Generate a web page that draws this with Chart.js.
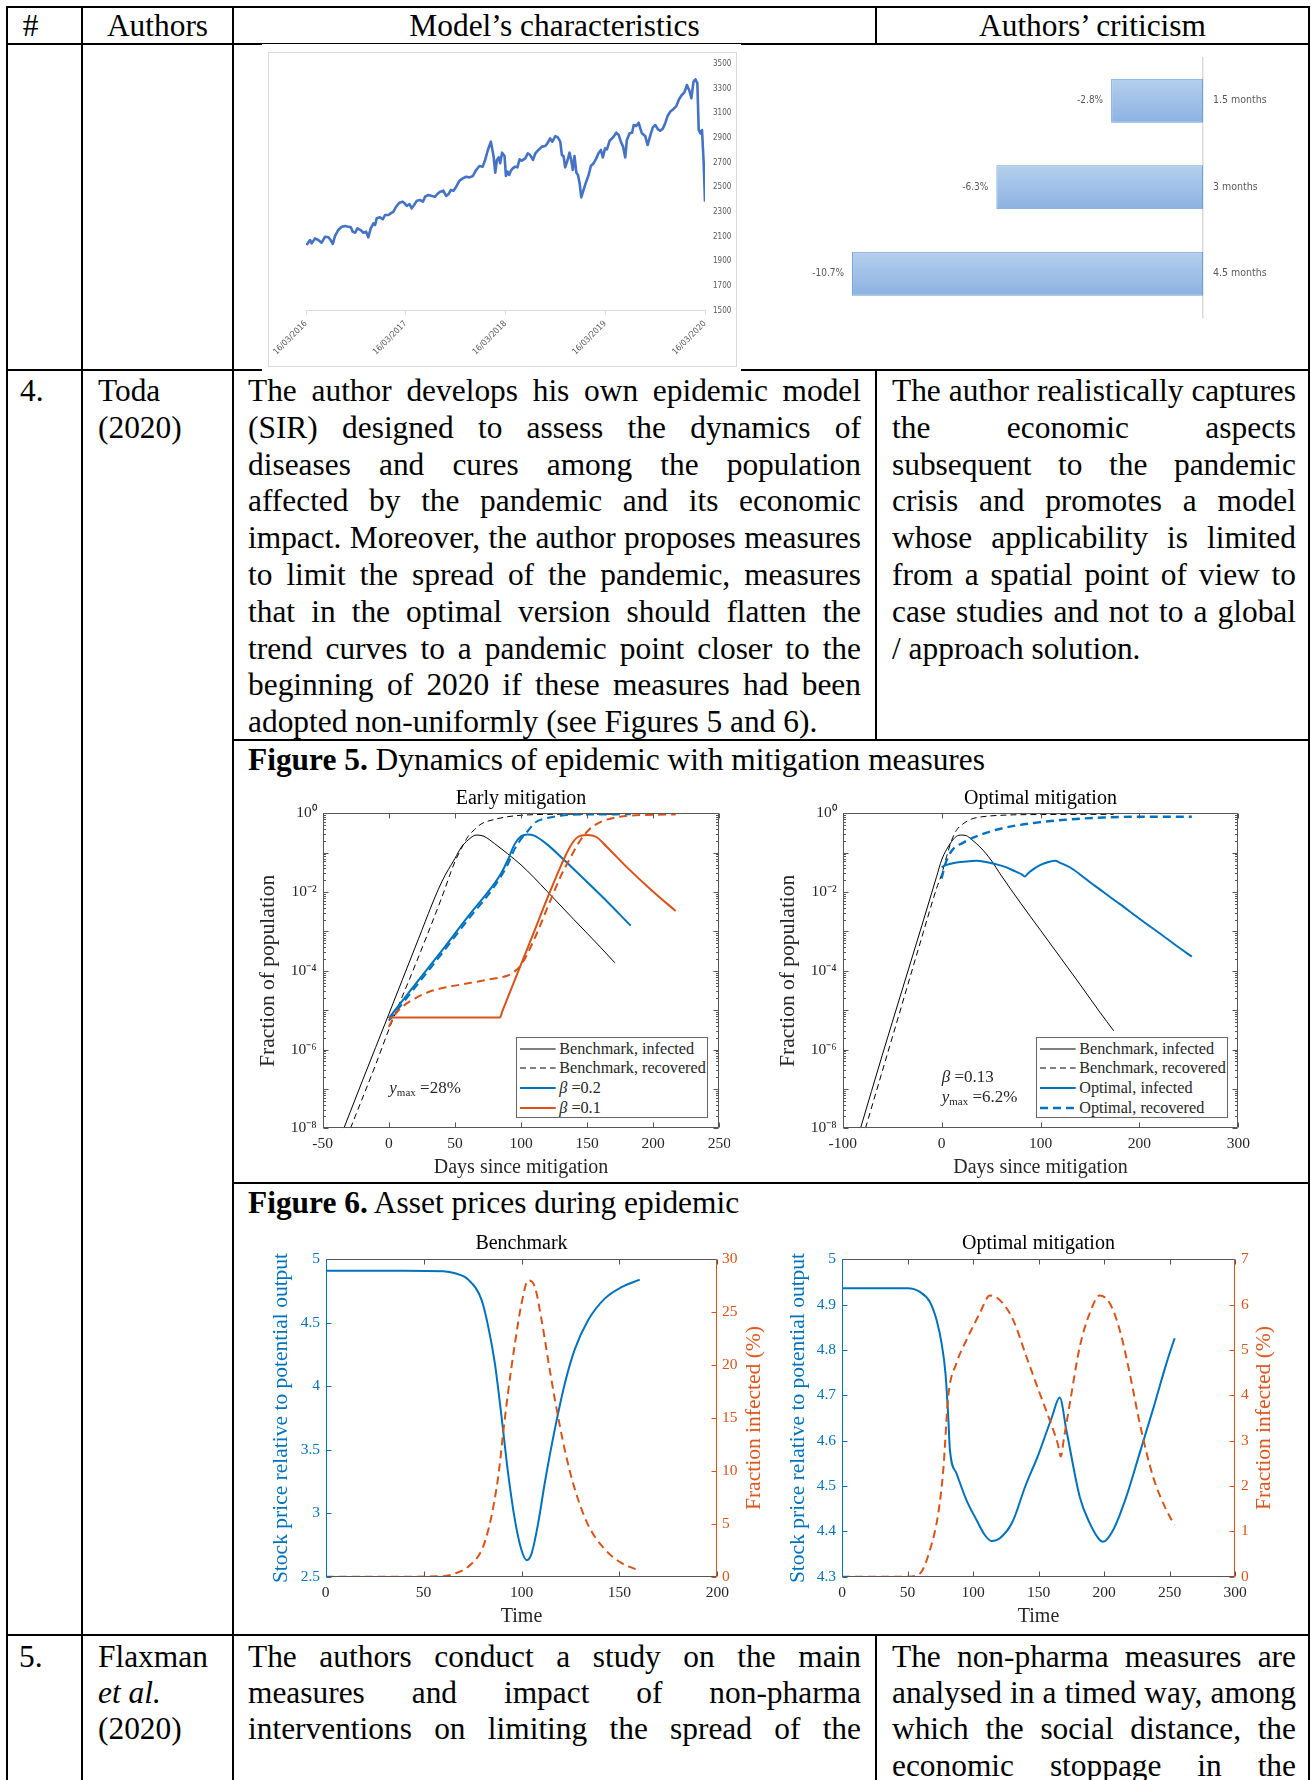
<!DOCTYPE html>
<html>
<head>
<meta charset="utf-8">
<title>Toda (2020) – epidemic and asset prices</title>
<script src="https://cdn.jsdelivr.net/npm/chart.js@4.4.1/dist/chart.umd.min.js"></script>
<style>
  html, body { margin: 0; padding: 0; background: #fff; }
  #page { position: relative; width: 1311px; height: 1780px; overflow: hidden;
          font-family: 'Liberation Serif', 'Times New Roman', serif; color: #000; }
  .ln { position: absolute; background: #000; z-index: 1; }
  .t { position: absolute; font-size: 31.4px; line-height: 36.8px; white-space: nowrap; z-index: 1; }
  .c { text-align: center; }
  .j { position: absolute; font-size: 31.4px; line-height: 36.8px; text-align: justify;
       text-align-last: justify; word-spacing: -0.05em; z-index: 1; }
  .cover { position: absolute; background: #fff; z-index: 2; }
  .frame { position: absolute; box-sizing: border-box; border: 1px solid #d9d9d9; background: #fff; z-index: 2; }
  canvas { position: absolute; z-index: 3; }
  .legend { position: absolute; box-sizing: border-box; border: 1px solid #666; background: #fff; z-index: 4; }
  .lrow { position: absolute; left: 0; right: 0; height: 20px; }
  .lrow svg { position: absolute; left: 3.6px; top: 0; }
  .lrow span { position: absolute; left: 42.6px; top: 0; font-size: 16.2px; line-height: 20px; color: #262626; white-space: nowrap; }
  .ann { position: absolute; font-size: 17px; line-height: 20px; color: #262626; white-space: nowrap; z-index: 4; transform: translateY(-50%); }
  .ann sub { font-size: 11px; vertical-align: -3px; }
  .rtitle { position: absolute; font-size: 21.5px; line-height: 26px; white-space: nowrap; z-index: 4;
            transform: translate(-50%, -50%) rotate(-90deg); }
</style>
</head>
<body>
<div id="page">
  <!-- table rules -->
  <div class="ln" style="left:6px;top:6px;width:1304px;height:2px"></div>
  <div class="ln" style="left:6px;top:43px;width:1304px;height:2px"></div>
  <div class="ln" style="left:6px;top:369px;width:1304px;height:2px"></div>
  <div class="ln" style="left:232px;top:739px;width:1078px;height:2px"></div>
  <div class="ln" style="left:232px;top:1182px;width:1078px;height:2px"></div>
  <div class="ln" style="left:6px;top:1634px;width:1304px;height:2px"></div>
  <div class="ln" style="left:6px;top:6px;width:2px;height:1774px"></div>
  <div class="ln" style="left:81px;top:6px;width:2px;height:1774px"></div>
  <div class="ln" style="left:232px;top:6px;width:2px;height:1774px"></div>
  <div class="ln" style="left:1308px;top:6px;width:2px;height:1774px"></div>
  <div class="ln" style="left:875px;top:6px;width:2px;height:38px"></div>
  <div class="ln" style="left:875px;top:369px;width:2px;height:371px"></div>
  <div class="ln" style="left:875px;top:1634px;width:2px;height:146px"></div>

  <!-- header row -->
  <div class="t" style="left:22.7px;top:8px">#</div>
  <div class="t c" style="left:82px;top:8px;width:151px">Authors</div>
  <div class="t c" style="left:233px;top:8px;width:643px">Model’s characteristics</div>
  <div class="t c" style="left:876px;top:8px;width:433px">Authors’ criticism</div>

  <!-- row 4 -->
  <div class="t" style="left:20px;top:373px">4.</div>
  <div class="t" style="left:98px;top:373px">Toda</div>
  <div class="t" style="left:98px;top:409.8px">(2020)</div>

  <div class="j" style="left:248px;top:373px;width:613px">The author develops his own epidemic model</div>
  <div class="j" style="left:248px;top:409.8px;width:613px">(SIR) designed to assess the dynamics of</div>
  <div class="j" style="left:248px;top:446.6px;width:613px">diseases and cures among the population</div>
  <div class="j" style="left:248px;top:483.4px;width:613px">affected by the pandemic and its economic</div>
  <div class="j" style="left:248px;top:520.2px;width:613px">impact. Moreover, the author proposes measures</div>
  <div class="j" style="left:248px;top:557px;width:613px">to limit the spread of the pandemic, measures</div>
  <div class="j" style="left:248px;top:593.8px;width:613px">that in the optimal version should flatten the</div>
  <div class="j" style="left:248px;top:630.6px;width:613px">trend curves to a pandemic point closer to the</div>
  <div class="j" style="left:248px;top:667.4px;width:613px">beginning of 2020 if these measures had been</div>
  <div class="t" style="left:248px;top:704.2px">adopted non-uniformly (see Figures 5 and 6).</div>

  <div class="j" style="left:892px;top:373px;width:404px">The author realistically captures</div>
  <div class="j" style="left:892px;top:409.8px;width:404px">the economic aspects</div>
  <div class="j" style="left:892px;top:446.6px;width:404px">subsequent to the pandemic</div>
  <div class="j" style="left:892px;top:483.4px;width:404px">crisis and promotes a model</div>
  <div class="j" style="left:892px;top:520.2px;width:404px">whose applicability is limited</div>
  <div class="j" style="left:892px;top:557px;width:404px">from a spatial point of view to</div>
  <div class="j" style="left:892px;top:593.8px;width:404px">case studies and not to a global</div>
  <div class="t" style="left:892px;top:630.6px">/ approach solution.</div>

  <!-- figure captions -->
  <div class="t" style="left:248px;top:742px"><b>Figure 5.</b> Dynamics of epidemic with mitigation measures</div>
  <div class="t" style="left:248px;top:1184.7px"><b>Figure 6.</b> Asset prices during epidemic</div>

  <!-- row 5 -->
  <div class="t" style="left:19px;top:1638.8px">5.</div>
  <div class="t" style="left:98px;top:1638.8px">Flaxman</div>
  <div class="t" style="left:98px;top:1675.1px"><i>et al.</i></div>
  <div class="t" style="left:98px;top:1711.4px">(2020)</div>

  <div class="j" style="left:248px;top:1638.8px;width:613px">The authors conduct a study on the main</div>
  <div class="j" style="left:248px;top:1675.1px;width:613px">measures and impact of non-pharma</div>
  <div class="j" style="left:248px;top:1711.4px;width:613px">interventions on limiting the spread of the</div>

  <div class="j" style="left:892px;top:1638.8px;width:404px">The non-pharma measures are</div>
  <div class="j" style="left:892px;top:1675.1px;width:404px">analysed in a timed way, among</div>
  <div class="j" style="left:892px;top:1711.4px;width:404px">which the social distance, the</div>
  <div class="j" style="left:892px;top:1747.7px;width:404px">economic stoppage in the</div>

  <!-- white panel behind the index chart -->
  <div class="cover" style="left:262px;top:44px;width:479px;height:328px"></div>
  <div class="frame" style="left:268px;top:52px;width:469px;height:315px"></div>
</div>

<script>
// ---------------- index level, 16/03/2016 – 16/03/2020 ----------------
const stockDays = [2,15,21,33,45,57,70,82,90,98,
  106,118,131,143,155,164,171,180,188,200,
  210,220,228,237,247,253,259,271,281,290,
  302,310,320,330,342,354,363,369,379,387,
  396,406,418,428,436,448,461,473,481,491,
  503,513,522,530,540,550,562,574,586,599,
  611,623,635,647,656,666,677,687,693,699,
  706,711,718,727,732,738,744,750,757,766,
  774,782,790,803,812,821,831,840,851,864,
  876,884,894,902,913,922,931,937,943,949,
  958,965,971,977,983,990,996,1002,1008,1016,
  1026,1035,1043,1053,1063,1071,1080,1087,1095,1102,
  1112,1124,1136,1145,1153,1161,1169,1175,1185,1194,
  1200,1209,1218,1224,1230,1242,1251,1261,1270,1279,
  1289,1297,1307,1316,1324,1334,1344,1356,1366,1376,
  1385,1395,1405,1411,1419,1426,1433,1438,1444,1450,
  1456,1461];
const stockValues = [2032,2073,2046,2086,2073,2051,2100,2095,2073,2041,
  2105,2154,2181,2186,2181,2176,2141,2132,2168,2154,
  2132,2141,2095,2168,2208,2195,2249,2257,2241,2276,
  2276,2289,2303,2343,2376,2384,2365,2349,2365,2330,
  2357,2392,2397,2384,2424,2438,2430,2424,2446,2465,
  2473,2430,2446,2478,2473,2505,2554,2573,2586,2581,
  2592,2641,2673,2668,2722,2803,2870,2749,2619,2722,
  2743,2695,2781,2754,2592,2627,2600,2635,2654,2668,
  2662,2727,2716,2735,2776,2762,2722,2776,2803,2830,
  2835,2857,2897,2870,2916,2905,2870,2762,2754,2662,
  2722,2781,2722,2641,2754,2619,2600,2532,2419,2478,
  2546,2600,2673,2695,2735,2776,2803,2743,2816,2808,
  2878,2905,2943,2924,2870,2830,2743,2884,2938,2943,
  3005,2997,3024,2978,2938,2916,2843,2924,2986,3005,
  2970,2959,2978,3024,3078,3114,3132,3159,3214,3249,
  3268,3330,3276,3222,3357,3376,3343,2965,2938,2965,
  2708,2384];
const stockTickDays = [0, 365, 730, 1095, 1461];
const stockTickLabels = ['16/03/2016', '16/03/2017', '16/03/2018', '16/03/2019', '16/03/2020'];

// ---------------- output loss by lockdown length ----------------
const lockdownLabels = ['1.5 months', '3 months', '4.5 months'];
const lockdownImpact = [-2.8, -6.3, -10.7];

// ---------------- Figure 5: early mitigation ----------------
const earlyXTicks = [-50, 0, 50, 100, 150, 200, 250];
const logTicks = [1e-8, 1e-6, 1e-4, 1e-2, 1];

const earlyBenchInfDays = [-34, -20, 0, 20, 40, 50, 55, 60, 66, 72, 80, 90, 100, 110, 120, 140, 160, 171];
const earlyBenchInfVals = [1.0e-8, 1.6e-7, 7.9e-6, 4.0e-4, 1.8e-2, 0.071, 0.14, 0.21, 0.28, 0.26, 0.17, 0.093, 0.049, 0.023, 0.0102, 2.0e-3, 4.0e-4, 1.6e-4];
const earlyBenchRecDays = [-29, -10, 0, 20, 40, 50, 55, 60, 65, 70, 80, 90, 100, 120, 150, 171];
const earlyBenchRecVals = [1.0e-8, 4.1e-7, 3.2e-6, 1.4e-4, 7.2e-3, 0.059, 0.13, 0.26, 0.39, 0.54, 0.70, 0.82, 0.89, 0.94, 0.95, 0.95];
const earlyB2InfDays = [0, 20, 40, 60, 80, 85, 90, 95, 100, 105, 110, 120, 130, 140, 160, 183];
const earlyB2InfVals = [6.3e-6, 4.5e-5, 3.2e-4, 2.4e-3, 0.0166, 0.030, 0.065, 0.16, 0.26, 0.29, 0.27, 0.16, 0.079, 0.038, 8.5e-3, 1.4e-3];
const earlyB2RecDays = [0, 20, 40, 60, 80, 90, 95, 100, 105, 110, 120, 130, 150, 183];
const earlyB2RecVals = [5.4e-6, 3.8e-5, 2.7e-4, 2.0e-3, 0.014, 0.050, 0.12, 0.22, 0.35, 0.56, 0.76, 0.87, 0.93, 0.94];
const earlyB1InfDays = [0, 84, 86, 100, 110, 120, 130, 137, 143, 150, 157, 165, 180, 200, 217];
const earlyB1InfVals = [6.5e-6, 6.5e-6, 9.6e-6, 1.45e-4, 1.0e-3, 7.1e-3, 0.045, 0.14, 0.25, 0.28, 0.25, 0.14, 0.043, 0.0102, 3.3e-3];
const earlyB1RecDays = [0, 5, 10, 20, 30, 45, 60, 75, 90, 95, 100, 110, 120, 130, 137, 145, 152, 160, 175, 195, 217];
const earlyB1RecVals = [3.8e-6, 7.9e-6, 1.2e-5, 2.0e-5, 2.9e-5, 3.9e-5, 4.8e-5, 6.0e-5, 7.6e-5, 9.5e-5, 1.4e-4, 6.3e-4, 4.0e-3, 0.025, 0.071, 0.21, 0.40, 0.60, 0.82, 0.91, 0.93];

// ---------------- Figure 5: optimal mitigation ----------------
const optimalXTicks = [-100, 0, 100, 200, 300];
const optBenchInfDays = [-82, -60, -40, -20, -5, 0, 5, 10, 15, 20, 25, 30, 40, 50, 60, 80, 100, 120, 140, 160, 174];
const optBenchInfVals = [1.0e-8, 7.2e-7, 3.2e-5, 1.4e-3, 0.025, 0.065, 0.12, 0.19, 0.26, 0.28, 0.27, 0.22, 0.13, 0.065, 0.027, 5.2e-3, 1.07e-3, 2.2e-4, 4.5e-5, 8.9e-6, 3.0e-6];
const optBenchRecDays = [-77, -60, -40, -20, -5, 0, 5, 10, 15, 20, 30, 40, 60, 100, 174];
const optBenchRecVals = [1.0e-8, 2.8e-7, 1.4e-5, 7.1e-4, 0.0126, 0.028, 0.079, 0.20, 0.37, 0.50, 0.71, 0.81, 0.89, 0.93, 0.94];
const optInfDays = [0, 5, 15, 25, 35, 45, 55, 65, 75, 81, 84, 87, 90, 100, 110, 115, 120, 130, 140, 150, 160, 170, 180, 200, 220, 240, 253];
const optInfVals = [0.043, 0.049, 0.056, 0.060, 0.062, 0.058, 0.051, 0.043, 0.033, 0.028, 0.025, 0.029, 0.034, 0.049, 0.060, 0.062, 0.055, 0.042, 0.028, 0.0178, 0.0117, 7.6e-3, 5.0e-3, 2.1e-3, 9.1e-4, 3.9e-4, 2.3e-4];
const optRecDays = [0, 3, 10, 22, 35, 62, 96, 130, 163, 197, 253];
const optRecVals = [0.022, 0.045, 0.11, 0.18, 0.26, 0.42, 0.58, 0.70, 0.78, 0.82, 0.82];

// ---------------- Figure 6: benchmark ----------------
const bmXTicks = [0, 50, 100, 150, 200];
const bmPriceTicks = [2.5, 3, 3.5, 4, 4.5, 5];
const bmInfTicks = [0, 5, 10, 15, 20, 25, 30];
const bmPriceTime = [0, 20, 40, 60, 66, 72.8, 79.6, 83, 86.4, 89.8, 93.2, 96.6, 100, 102.6, 105.1, 108.5, 111.9, 117, 122.1, 127.2, 134, 142.5, 151, 160.4];
const bmPriceVals = [4.91, 4.91, 4.91, 4.905, 4.89, 4.84, 4.68, 4.47, 4.18, 3.76, 3.31, 2.95, 2.71, 2.63, 2.68, 2.92, 3.24, 3.66, 4.02, 4.29, 4.52, 4.69, 4.78, 4.84];
const bmInfTime = [0, 40, 60, 66, 72.8, 79.6, 83, 86, 88.5, 90.7, 93.2, 96.6, 100, 103.4, 106.8, 110.2, 113.6, 117, 122.1, 127.2, 134, 142.5, 151, 160.4];
const bmInfVals = [0, 0, 0.05, 0.3, 0.95, 2.5, 4.4, 7.0, 10.0, 13.7, 17.5, 22.0, 25.8, 28.0, 27.4, 24.3, 20.5, 16.8, 12.0, 8.3, 4.9, 2.6, 1.3, 0.57];

// ---------------- Figure 6: optimal mitigation ----------------
const opXTicks = [0, 50, 100, 150, 200, 250, 300];
const opPriceTicks = [4.3, 4.4, 4.5, 4.6, 4.7, 4.8, 4.9, 5];
const opInfTicks = [0, 1, 2, 3, 4, 5, 6, 7];
const opPriceTime = [0, 50, 59.5, 67.1, 72.2, 76, 79, 81.1, 82.4, 87.4, 95, 102.7, 109, 114.1, 120.5, 130, 140, 150, 160, 166.2, 171.3, 181.5, 189.1, 196.7, 199.3, 207, 217, 227.3, 237.4, 247.6, 253.9];
const opPriceVals = [4.936, 4.936, 4.928, 4.906, 4.866, 4.815, 4.748, 4.653, 4.579, 4.528, 4.469, 4.425, 4.392, 4.379, 4.385, 4.42, 4.50, 4.57, 4.65, 4.695, 4.623, 4.476, 4.418, 4.381, 4.377, 4.403, 4.476, 4.573, 4.669, 4.77, 4.826];
const opInfTime = [0, 50, 59.5, 67.1, 73.5, 77.3, 81.1, 87.4, 95, 105.2, 112.9, 120.5, 130.7, 140.8, 151, 161.2, 165, 167, 169.5, 173.9, 181.5, 189.1, 196.7, 204.4, 212, 219.6, 227.3, 237.4, 247.6, 253.9];
const opInfVals = [0, 0, 0.07, 0.59, 1.40, 2.35, 3.97, 4.71, 5.22, 5.81, 6.2, 6.10, 5.66, 4.85, 4.04, 3.24, 2.9, 2.65, 3.07, 3.82, 5.07, 5.81, 6.2, 6.03, 5.44, 4.49, 3.38, 2.21, 1.47, 1.14];

// ---------------- styling ----------------
const SERIF = "'Liberation Serif', 'Times New Roman', serif";
const NARROW = "'Liberation Sans Narrow', 'Arial Narrow', 'DejaVu Sans Condensed', sans-serif";
const INK = '#262626';
const FRAME = '#555555';
const BLUE = '#0072BD';
const ORANGE = '#D95319';
const SUP = { '0': '⁰', '1': '¹', '2': '²', '3': '³', '4': '⁴', '5': '⁵', '6': '⁶', '7': '⁷', '8': '⁸', '9': '⁹', '-': '⁻' };
const page = document.getElementById('page');

const pts = (xs, ys) => xs.map((x, i) => ({ x, y: ys[i] }));
const tickList = arr => s => { s.ticks = arr.map(v => ({ value: v })); };
const plainNum = v => String(Math.round(v * 1000) / 1000);
const powLabel = v => '10' + String(Math.round(Math.log10(v))).split('').map(ch => SUP[ch]).join('');

function makeCanvas(left, top, w, h) {
  const c = document.createElement('canvas');
  c.width = w; c.height = h;
  c.style.left = left + 'px'; c.style.top = top + 'px';
  c.style.width = w + 'px'; c.style.height = h + 'px';
  page.appendChild(c);
  return c;
}

// Box frame with inward tick marks on every side (MATLAB look)
const boxAxes = {
  id: 'boxAxes',
  afterDatasetsDraw(chart, _args, o) {
    const { ctx, chartArea: a } = chart;
    const L = Math.round(a.left) + 0.5, R = Math.round(a.right) - 0.5;
    const T = Math.round(a.top) + 0.5, B = Math.round(a.bottom) - 0.5;
    const seg = (x1, y1, x2, y2, c) => {
      ctx.strokeStyle = c; ctx.beginPath(); ctx.moveTo(x1, y1); ctx.lineTo(x2, y2); ctx.stroke();
    };
    ctx.save();
    ctx.lineWidth = 1;
    const xs = chart.scales.x;
    xs.ticks.forEach(t => {
      const p = Math.round(xs.getPixelForValue(t.value)) + 0.5;
      seg(p, B, p, B - o.len, o.color);
      seg(p, T, p, T + o.len, o.color);
    });
    o.yAxes.forEach(ax => {
      const s = chart.scales[ax.id];
      const marks = [];
      if (s.type === 'logarithmic') {
        const e0 = Math.round(Math.log10(s.min)), e1 = Math.round(Math.log10(s.max));
        for (let e = e0; e <= e1; e++) {
          marks.push([Math.pow(10, e), o.len]);
          if (e < e1) for (let k = 2; k < 10; k++) marks.push([k * Math.pow(10, e), o.len * 0.5]);
        }
      } else {
        s.ticks.forEach(t => marks.push([t.value, o.len]));
      }
      marks.forEach(([v, len]) => {
        const p = Math.round(s.getPixelForValue(v)) + 0.5;
        if (ax.left) seg(L, p, L + len, p, ax.color);
        if (ax.right) seg(R, p, R - len, p, ax.color);
      });
    });
    seg(L, T, R, T, o.color);
    seg(L, B, R, B, o.color);
    seg(L, T, L, B, o.leftColor || o.color);
    seg(R, T, R, B, o.rightColor || o.color);
    ctx.restore();
  }
};

// title box sized to the plot area, so it centres over the axes
function titleOpts(text, top, bottom) {
  return { display: true, fullSize: false, text, color: '#000', font: { family: SERIF, size: 20, weight: 'normal' }, padding: { top, bottom } };
}

function xAxis(min, max, ticks, height, pad, title, titlePad) {
  return {
    type: 'linear', min, max,
    afterBuildTicks: tickList(ticks),
    afterFit: s => { s.height = height; s.paddingLeft = 0; s.paddingRight = 0; },
    grid: { display: false, drawTicks: false },
    border: { display: false },
    ticks: { padding: pad, color: INK, autoSkip: false, maxRotation: 0, font: { family: SERIF, size: 15.5 }, callback: v => plainNum(v) },
    title: { display: true, text: title, color: INK, font: { family: SERIF, size: 20 }, padding: { top: 0, bottom: titlePad } }
  };
}

function yAxis(o) {
  return {
    type: o.type || 'linear', position: o.position, min: o.min, max: o.max,
    afterBuildTicks: tickList(o.ticks),
    afterFit: s => { s.width = o.width; s.paddingTop = 0; s.paddingBottom = 0; },
    grid: { display: false, drawTicks: false },
    border: { display: false },
    ticks: { padding: o.pad, color: o.color, autoSkip: false, font: { family: SERIF, size: 15.5 }, callback: o.fmt || (v => plainNum(v)) },
    title: o.title ? { display: true, text: o.title, color: o.color, font: { family: SERIF, size: 21.5 }, padding: { top: o.titlePad, bottom: 0 } } : { display: false }
  };
}

function lineSet(label, data, color, width, dash, order, yAxisID) {
  return { label, data, borderColor: color, borderWidth: width, borderDash: dash || [], pointRadius: 0,
           cubicInterpolationMode: 'monotone', fill: false, order, yAxisID: yAxisID || 'y' };
}

function baseOptions(extra) {
  return Object.assign({
    responsive: false, animation: false, devicePixelRatio: 1, events: [],
  }, extra);
}

function addLegend(left, top, width, height, sets) {
  const box = document.createElement('div');
  box.className = 'legend';
  box.style.left = left + 'px'; box.style.top = top + 'px';
  box.style.width = width + 'px'; box.style.height = height + 'px';
  sets.forEach((d, i) => {
    const row = document.createElement('div');
    row.className = 'lrow';
    row.style.top = (0.4 + 19.7 * i) + 'px';
    const dash = d.borderDash && d.borderDash.length ? ` stroke-dasharray="${d.borderDash.join(' ')}"` : '';
    row.innerHTML = `<svg width="36" height="20"><line x1="0" y1="10" x2="35.7" y2="10" stroke="${d.borderColor}" stroke-width="${d.borderWidth}"${dash}/></svg>` +
      `<span>${d.label.replace('β', '<i>β</i>')}</span>`;
    box.appendChild(row);
  });
  page.appendChild(box);
}

function addNote(left, centerY, html) {
  const n = document.createElement('div');
  n.className = 'ann';
  n.style.left = left + 'px'; n.style.top = centerY + 'px';
  n.innerHTML = html;
  page.appendChild(n);
}

function addRightTitle(cx, cy, text, color) {
  const d = document.createElement('div');
  d.className = 'rtitle';
  d.style.left = cx + 'px'; d.style.top = cy + 'px'; d.style.color = color;
  d.textContent = text;
  page.appendChild(d);
}

// ---------------- index line chart ----------------
new Chart(makeCanvas(240, 52, 497, 315), {
  type: 'line',
  data: { datasets: [{ data: pts(stockDays, stockValues), borderColor: '#4472C4', borderWidth: 2.6,
                       pointRadius: 0, tension: 0, fill: false, borderJoinStyle: 'round' }] },
  options: baseOptions({
    layout: { padding: { left: 66, top: 12, right: 0, bottom: 0 } },
    plugins: { legend: { display: false }, tooltip: { enabled: false } },
    scales: {
      x: {
        type: 'linear', min: 0, max: 1461,
        afterBuildTicks: tickList(stockTickDays),
        afterFit: s => { s.height = 56.3; s.paddingLeft = 0; s.paddingRight = 0; },
        grid: { display: true, drawOnChartArea: false, drawTicks: true, tickLength: 4, color: '#d9d9d9' },
        border: { display: true, color: '#d9d9d9', width: 1 },
        ticks: { autoSkip: false, minRotation: 45, maxRotation: 45, padding: 4, color: '#595959',
                 font: { family: NARROW, size: 8.5 },
                 callback: v => { const i = stockTickDays.indexOf(v); return i < 0 ? '' : stockTickLabels[i]; } }
      },
      y: {
        position: 'right', min: 1500, max: 3500,
        afterFit: s => { s.width = 32; s.paddingTop = 0; s.paddingBottom = 0; },
        grid: { display: false, drawTicks: false },
        border: { display: false },
        ticks: { stepSize: 200, padding: 8, color: '#595959', font: { family: NARROW, size: 8 },
                 callback: v => String(v) }
      }
    }
  })
});

// ---------------- lockdown bar chart ----------------
const barValueLabels = {
  id: 'barValueLabels',
  afterDatasetsDraw(chart) {
    const { ctx } = chart;
    const ds = chart.data.datasets[0];
    ctx.save();
    ctx.font = `10px ${NARROW}`;
    ctx.fillStyle = '#595959';
    ctx.textAlign = 'right';
    ctx.textBaseline = 'middle';
    chart.getDatasetMeta(0).data.forEach((bar, i) => {
      ctx.fillText(ds.data[i].toFixed(1) + '%', bar.x - 8, bar.y);
    });
    ctx.restore();
  }
};

new Chart(makeCanvas(770, 50, 536, 318), {
  type: 'bar',
  data: {
    labels: lockdownLabels,
    datasets: [{
      data: lockdownImpact,
      backgroundColor: c => {
        const ys = c.chart.scales.y;
        if (!ys || c.dataIndex === undefined) return '#9fbfe6';
        const py = ys.getPixelForValue(c.dataIndex);
        if (!Number.isFinite(py)) return '#9fbfe6';
        const g = c.chart.ctx.createLinearGradient(0, py - 22, 0, py + 22);
        g.addColorStop(0, '#b5cfed');
        g.addColorStop(1, '#8cb2e2');
        return g;
      },
      borderColor: '#6a9fdb', borderWidth: 1, borderSkipped: false,
      barPercentage: 0.51, categoryPercentage: 1
    }]
  },
  options: baseOptions({
    indexAxis: 'y',
    layout: { padding: { left: 6.6, top: 7.5, right: 0, bottom: 51 } },
    plugins: { legend: { display: false }, tooltip: { enabled: false } },
    scales: {
      x: { display: false, min: -13, max: 0 },
      y: {
        position: 'right',
        afterFit: s => { s.width = 103; s.paddingTop = 0; s.paddingBottom = 0; },
        grid: { display: false, drawTicks: false },
        border: { display: true, color: '#d9d9d9', width: 1.5 },
        ticks: { padding: 10, color: '#595959', font: { family: NARROW, size: 10.5 } }
      }
    }
  }),
  plugins: [barValueLabels]
});

// ---------------- Figure 5, left: early mitigation ----------------
const earlySets = [
  lineSet('Benchmark, infected', pts(earlyBenchInfDays, earlyBenchInfVals), '#000000', 1, null, 6),
  lineSet('Benchmark, recovered', pts(earlyBenchRecDays, earlyBenchRecVals), '#000000', 1, [6, 4], 5),
  lineSet('β =0.2', pts(earlyB2InfDays, earlyB2InfVals), BLUE, 2, null, 4),
  lineSet('β =0.2, recovered', pts(earlyB2RecDays, earlyB2RecVals), BLUE, 2, [8, 5], 3),
  lineSet('β =0.1', pts(earlyB1InfDays, earlyB1InfVals), ORANGE, 2, null, 2),
  lineSet('β =0.1, recovered', pts(earlyB1RecDays, earlyB1RecVals), ORANGE, 2, [8, 5], 1)
];
new Chart(makeCanvas(240, 785, 490, 395), {
  type: 'line',
  data: { datasets: earlySets },
  options: baseOptions({
    layout: { padding: { left: 0, top: 0, right: 10.7, bottom: 0 } },
    plugins: {
      legend: { display: false }, tooltip: { enabled: false },
      title: titleOpts('Early mitigation', 1.3, 3.0),
      boxAxes: { len: 5, color: FRAME, yAxes: [{ id: 'y', left: true, right: true, color: FRAME }] }
    },
    scales: {
      x: xAxis(-50, 250, earlyXTicks, 51.7, 6.4, 'Days since mitigation', 0.7),
      y: yAxis({ type: 'logarithmic', position: 'left', min: 1e-8, max: 1, ticks: logTicks, width: 82.7, pad: 6,
                 color: INK, fmt: powLabel, title: 'Fraction of population', titlePad: 15.4 })
    }
  }),
  plugins: [boxAxes]
});
addLegend(515.7, 1037.3, 192.6, 81, [earlySets[0], earlySets[1], earlySets[2], earlySets[4]]);
addNote(389.3, 1090, '<i>y</i><sub>max</sub> =28%');

// ---------------- Figure 5, right: optimal mitigation ----------------
const optSets = [
  lineSet('Benchmark, infected', pts(optBenchInfDays, optBenchInfVals), '#000000', 1, null, 4),
  lineSet('Benchmark, recovered', pts(optBenchRecDays, optBenchRecVals), '#000000', 1, [6, 4], 3),
  lineSet('Optimal, infected', pts(optInfDays, optInfVals), BLUE, 2, null, 2),
  lineSet('Optimal, recovered', pts(optRecDays, optRecVals), BLUE, 2.4, [8, 5], 1)
];
new Chart(makeCanvas(760, 785, 545, 395), {
  type: 'line',
  data: { datasets: optSets },
  options: baseOptions({
    layout: { padding: { left: 0, top: 0, right: 66.7, bottom: 0 } },
    plugins: {
      legend: { display: false }, tooltip: { enabled: false },
      title: titleOpts('Optimal mitigation', 1.3, 3.0),
      boxAxes: { len: 5, color: FRAME, yAxes: [{ id: 'y', left: true, right: true, color: FRAME }] }
    },
    scales: {
      x: xAxis(-100, 300, optimalXTicks, 51.7, 6.4, 'Days since mitigation', 0.7),
      y: yAxis({ type: 'logarithmic', position: 'left', min: 1e-8, max: 1, ticks: logTicks, width: 82.7, pad: 6,
                 color: INK, fmt: powLabel, title: 'Fraction of population', titlePad: 15.4 })
    }
  }),
  plugins: [boxAxes]
});
addLegend(1035.7, 1037.3, 192.6, 81, optSets);
addNote(941.7, 1076.7, '<i>β</i> =0.13');
addNote(941.7, 1099.3, '<i>y</i><sub>max</sub> =6.2%');

// ---------------- Figure 6, left: benchmark ----------------
new Chart(makeCanvas(245, 1228, 553, 402), {
  type: 'line',
  data: { datasets: [
    lineSet('Stock price', pts(bmPriceTime, bmPriceVals), BLUE, 2, null, 2, 'y'),
    lineSet('Fraction infected', pts(bmInfTime, bmInfVals), ORANGE, 2, [8, 5], 1, 'y1')
  ] },
  options: baseOptions({
    layout: { padding: 0 },
    plugins: {
      legend: { display: false }, tooltip: { enabled: false },
      title: titleOpts('Benchmark', 3.3, 4.0),
      boxAxes: { len: 5, color: FRAME, leftColor: BLUE, rightColor: ORANGE,
                 yAxes: [{ id: 'y', left: true, color: BLUE }, { id: 'y1', right: true, color: ORANGE }] }
    },
    scales: {
      x: xAxis(0, 200, bmXTicks, 53.3, 7.3, 'Time', 1.3),
      y: yAxis({ position: 'left', min: 2.5, max: 5, ticks: bmPriceTicks, width: 80.7, pad: 5.7, color: BLUE,
                 title: 'Stock price relative to potential output', titlePad: 23.8 }),
      y1: yAxis({ position: 'right', min: 0, max: 30, ticks: bmInfTicks, width: 80.7, pad: 4.6, color: ORANGE })
    }
  }),
  plugins: [boxAxes]
});
addRightTitle(752.6, 1418, 'Fraction infected (%)', ORANGE);

// ---------------- Figure 6, right: optimal mitigation ----------------
new Chart(makeCanvas(765, 1228, 547, 402), {
  type: 'line',
  data: { datasets: [
    lineSet('Stock price', pts(opPriceTime, opPriceVals), BLUE, 2, null, 2, 'y'),
    lineSet('Fraction infected', pts(opInfTime, opInfVals), ORANGE, 2, [8, 5], 1, 'y1')
  ] },
  options: baseOptions({
    layout: { padding: 0 },
    plugins: {
      legend: { display: false }, tooltip: { enabled: false },
      title: titleOpts('Optimal mitigation', 3.3, 4.0),
      boxAxes: { len: 5, color: FRAME, leftColor: BLUE, rightColor: ORANGE,
                 yAxes: [{ id: 'y', left: true, color: BLUE }, { id: 'y1', right: true, color: ORANGE }] }
    },
    scales: {
      x: xAxis(0, 300, opXTicks, 53.3, 7.3, 'Time', 1.3),
      y: yAxis({ position: 'left', min: 4.3, max: 5, ticks: opPriceTicks, width: 77, pad: 6, color: BLUE,
                 title: 'Stock price relative to potential output', titlePad: 20.4 }),
      y1: yAxis({ position: 'right', min: 0, max: 7, ticks: opInfTicks, width: 77, pad: 6, color: ORANGE })
    }
  }),
  plugins: [boxAxes]
});
addRightTitle(1263.3, 1418, 'Fraction infected (%)', ORANGE);
</script>
</body>
</html>
